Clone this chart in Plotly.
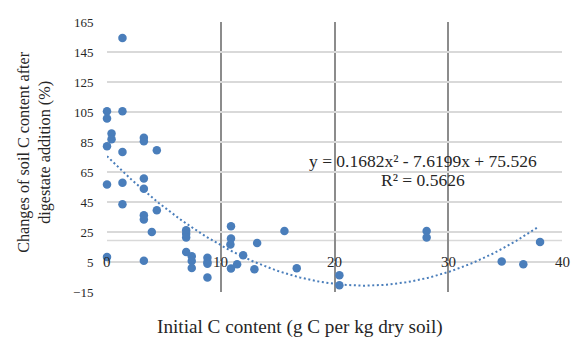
import numpy as np
import plotly.graph_objects as go

# ---- data ----
initial_c = [1.36, 0, 1.36, 0, 0.4, 0.4, 0, 1.36, 3.24, 3.24,
             4.38, 0, 1.36, 3.24, 3.24, 1.36, 4.38, 3.24, 3.24, 3.94,
             6.96, 6.96, 6.96, 0, 3.24, 6.96, 7.45, 7.45, 7.45, 8.83,
             8.83, 8.83, 8.83, 10.9, 10.9, 10.85, 10.9, 11.44, 11.97, 13.2,
             12.96, 15.6, 16.68, 20.43, 20.43, 28.1, 28.1, 34.7, 36.6, 38.07]
change_c = [154.4, 105.5, 105.5, 100.6, 90.6, 86.8, 82.1, 78.3, 87.9, 85.5,
            79.5, 56.6, 57.9, 60.6, 53.9, 43.5, 39.5, 36.1, 33.3, 25,
            26.1, 23.9, 21.3, 8.3, 5.9, 11.7, 8.8, 5.7, 1, 7.9,
            5, 3.9, -5.4, 28.8, 20.6, 16.6, 0.6, 3.5, 9.5, 17.7,
            0.1, 25.7, 0.8, -3.9, -10.5, 25.7, 21.3, 5.3, 3.5, 18.3]

# polynomial trendline coefficients (as printed on chart)
trend_a, trend_b, trend_c = 0.1682, -7.6199, 75.526
trend_x_end = 37.9
eq_text = "y = 0.1682x² - 7.6199x + 75.526"
r2_text = "R² = 0.5626"

x_ticks = [0, 10, 20, 30, 40]
y_ticks = [-15, 5, 25, 45, 65, 85, 105, 125, 145, 165]
x_label_level = 5
axis_line_level = 19.4

# ---- layout geometry ----
W, H = 579, 338
ML, MR, MT, MB = 106.5, 17.3, 21.7, 46.3
PW, PH = W - ML - MR, H - MT - MB


def px_x(p):
    return (p - ML) / PW


def px_y(p):
    return (H - MB - p) / PH


blue = "#4A7EBB"
font_fam = "Liberation Serif, Times New Roman, serif"
txt = "#262626"

tx = np.linspace(0, trend_x_end, 200)
ty = trend_a * tx ** 2 + trend_b * tx + trend_c

fig = go.Figure()
fig.add_trace(go.Scatter(x=tx, y=ty, mode="lines",
                         line=dict(color=blue, width=2, dash="2px,2.6px"),
                         hoverinfo="skip"))
fig.add_trace(go.Scatter(x=initial_c, y=change_c, mode="markers",
                         marker=dict(color=blue, size=8.5),
                         cliponaxis=False))

annotations = []
for v in x_ticks:
    annotations.append(dict(x=v, y=x_label_level, xref="x", yref="y",
                            text=str(v), showarrow=False,
                            xanchor="center", yanchor="middle",
                            font=dict(size=15, color=txt, family=font_fam)))

annotations.append(dict(x=px_x(34), y=px_y(152), xref="paper", yref="paper",
                        text="Changes of soil C content after<br>digestate addition (%)",
                        textangle=-90, showarrow=False,
                        xanchor="center", yanchor="middle",
                        font=dict(size=16.2, color=txt, family=font_fam)))
annotations.append(dict(x=px_x(299.5), y=px_y(327), xref="paper", yref="paper",
                        text="Initial C content (g C per kg dry soil)",
                        showarrow=False, xanchor="center", yanchor="middle",
                        font=dict(size=19.2, color=txt, family=font_fam)))
annotations.append(dict(x=px_x(423), y=px_y(161), xref="paper", yref="paper",
                        text=eq_text, showarrow=False,
                        xanchor="center", yanchor="middle",
                        font=dict(size=17.5, color=txt, family=font_fam)))
annotations.append(dict(x=px_x(423), y=px_y(180), xref="paper", yref="paper",
                        text=r2_text, showarrow=False,
                        xanchor="center", yanchor="middle",
                        font=dict(size=17.5, color=txt, family=font_fam)))

fig.update_layout(
    width=W, height=H,
    margin=dict(l=ML, r=MR, t=MT, b=MB, pad=0),
    paper_bgcolor="white", plot_bgcolor="white",
    showlegend=False,
    font=dict(family=font_fam, color=txt),
    annotations=annotations,
    shapes=[dict(type="line", xref="paper", yref="y", x0=0, x1=1,
                 y0=axis_line_level, y1=axis_line_level,
                 line=dict(color="#D9D9D9", width=1.5), layer="below")],
    xaxis=dict(range=[0, 40], tickvals=x_ticks, showticklabels=False,
               showgrid=True, gridcolor="#8C8C8C", gridwidth=1.5,
               zeroline=False, showline=False, ticks=""),
    yaxis=dict(range=[-15, 165], tickvals=y_ticks,
               showgrid=True, gridcolor="#D9D9D9", gridwidth=1.5,
               zeroline=False, showline=False,
               ticks="outside", ticklen=10, tickcolor="rgba(0,0,0,0)",
               tickfont=dict(size=13, color=txt, family=font_fam)),
)

fig.write_html("out.html")
